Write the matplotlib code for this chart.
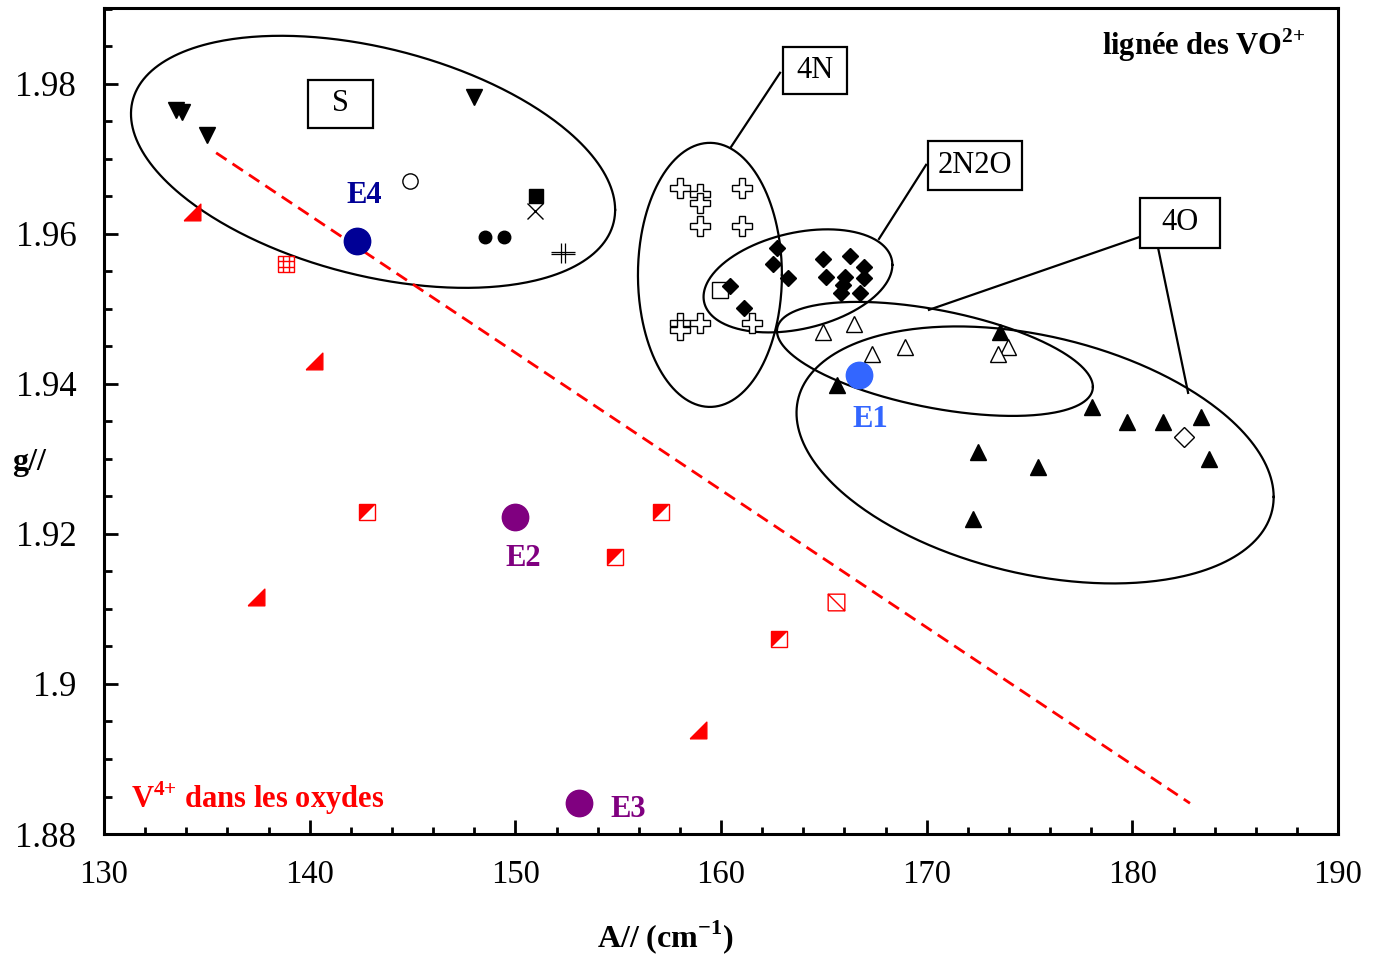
import numpy as np
import matplotlib
matplotlib.use('Agg')
import matplotlib.pyplot as plt
from matplotlib.path import Path
from matplotlib.patches import Rectangle
from matplotlib.ticker import MultipleLocator, FuncFormatter

plt.rcParams['font.family'] = 'Liberation Serif'
plt.rcParams['mathtext.fontset'] = 'custom'
plt.rcParams['mathtext.rm'] = 'Liberation Serif'
plt.rcParams['mathtext.bf'] = 'Liberation Serif:bold'

# ---- data (A// in cm-1, g//) ----
# S group
s_tri_x = [133.5, 133.8, 135.0, 148.0]
s_tri_y = [1.9765, 1.9763, 1.9732, 1.9783]
s_ocirc_x, s_ocirc_y = [144.9], [1.9671]
s_fsq_x, s_fsq_y = [151.0], [1.9651]
s_cross_x, s_cross_y = [150.95], [1.9631]
s_fcirc_x = [148.5, 149.45]
s_fcirc_y = [1.9596, 1.9596]
s_dbl_x, s_dbl_y = [152.3], [1.9575]

# 4N group
n4_x = [158.0, 159.0, 159.0, 161.0, 159.0, 161.0, 158.0, 158.0, 159.0, 161.5]
n4_y = [1.9661, 1.9653, 1.9641, 1.9661, 1.9611, 1.9611, 1.9481, 1.9472, 1.9481, 1.9481]
n4_sq_x, n4_sq_y = [159.95], [1.9525]

# 2N2O group
n2o2_x = [162.72, 162.53, 163.26, 160.44, 161.12, 164.96, 166.27, 166.95,
          165.11, 166.03, 166.95, 165.93, 165.83, 166.76]
n2o2_y = [1.9581, 1.9560, 1.9541, 1.9531, 1.9501, 1.9567, 1.9571, 1.9556,
          1.9543, 1.9543, 1.9541, 1.9532, 1.9521, 1.9521]

# 4O group
o4_open_x = [164.96, 166.47, 167.34, 168.95, 173.95, 173.47]
o4_open_y = [1.9469, 1.9480, 1.9440, 1.9449, 1.9449, 1.9440]
o4_fill_x = [173.57, 165.64, 178.04, 179.74, 181.49, 183.34, 172.5, 175.41, 183.73, 172.25]
o4_fill_y = [1.9469, 1.9399, 1.9369, 1.9349, 1.9349, 1.9356, 1.9309, 1.9289, 1.9300, 1.9220]
o4_diam_x, o4_diam_y = [182.51], [1.9329]

# V4+ in oxides (red)
ox_tri_x = [134.28, 140.2, 137.39, 158.88]
ox_tri_y = [1.9629, 1.9431, 1.9116, 1.8939]
ox_grid_x, ox_grid_y = [138.85], [1.9560]
ox_half_x = [142.79, 154.85, 157.08, 162.82]
ox_half_y = [1.9229, 1.9169, 1.9229, 1.9060]
ox_diag_x, ox_diag_y = [165.59], [1.9109]
ox_fit_x = [135.45, 182.8]
ox_fit_y = [1.9708, 1.8841]

# samples
samples = ['E1', 'E2', 'E3', 'E4']
samp_x = [166.71, 149.98, 153.1, 142.3]
samp_y = [1.9412, 1.9223, 1.8841, 1.9591]
samp_col = ['#3366ff', '#800080', '#800080', '#000096']
samp_lab_x = [167.24, 150.37, 155.48, 142.64]
samp_lab_y = [1.9352, 1.9167, 1.8833, 1.9651]

# group labels: text, box x0, x1, y0, y1
groups = ['S', '4N', '2N2O', '4O']
grp_x0 = [139.92, 163.01, 170.06, 180.37]
grp_x1 = [143.08, 166.13, 174.63, 184.26]
grp_y0 = [1.97413, 1.97867, 1.96587, 1.95813]
grp_y1 = [1.98053, 1.98493, 1.97240, 1.96480]

# custom markers
tri_r = Path([(-1, -1), (1, -1), (1, 1), (-1, -1)])
tri_ul = Path([(-1, 1), (1, 1), (-1, -1), (-1, 1)])
t = 1 / 3.
grid_sq = Path([(-1, -1), (1, -1), (1, 1), (-1, 1), (-1, -1),
                (-t, -1), (-t, 1), (t, -1), (t, 1), (-1, -t), (1, -t), (-1, t), (1, t)],
               [Path.MOVETO, Path.LINETO, Path.LINETO, Path.LINETO, Path.LINETO,
                Path.MOVETO, Path.LINETO, Path.MOVETO, Path.LINETO,
                Path.MOVETO, Path.LINETO, Path.MOVETO, Path.LINETO])
diag_sq = Path([(-1, -1), (1, -1), (1, 1), (-1, 1), (-1, -1), (-1, 1), (1, -1)],
               [Path.MOVETO, Path.LINETO, Path.LINETO, Path.LINETO, Path.LINETO,
                Path.MOVETO, Path.LINETO])
dbl_cross = Path([(-0.2, -0.85), (-0.2, 0.85), (0.2, -0.85), (0.2, 0.85),
                  (-1, 0.05), (1, 0.05), (-1, -0.1), (1, -0.1)],
                 [Path.MOVETO, Path.LINETO] * 4)


def ellipse(cx, cy, hx, hy, k):
    # hx, hy: half extents; k: y offset of the rightmost point
    tt = np.linspace(0, 2 * np.pi, 400)
    return cx + hx * np.cos(tt), cy + k * np.cos(tt) + np.sqrt(hy ** 2 - k ** 2) * np.sin(tt)


fig = plt.figure(figsize=(13.78, 9.56), dpi=100)
ax = fig.add_axes([0.0755, 0.1276, 0.8955, 0.864])

# ellipses
for cx, cy, hx, hy, k in [(143.08, 1.9696, 11.77, 0.0168, -0.0064),
                          (159.46, 1.95453, 3.50, 0.0176, 0.0),
                          (163.74, 1.95373, 4.59, 0.00687, 0.00213),
                          (170.40, 1.94333, 7.68, 0.0076, -0.00373),
                          (175.27, 1.93053, 11.6, 0.01713, -0.0056)]:
    ex, ey = ellipse(cx, cy, hx, hy, k)
    ax.plot(ex, ey, color='black', lw=1.6, zorder=1)

# leader lines to boxes
for (x0, y0), (x1, y1) in [((162.87, 1.98147), (160.49, 1.9716)),
                           ((169.97, 1.9692), (167.68, 1.95933)),
                           ((180.37, 1.9596), (170.11, 1.94987)),
                           ((181.25, 1.95813), (182.71, 1.9388))]:
    ax.plot([x0, x1], [y0, y1], color='black', lw=1.6, zorder=1)

# red fit line
ax.plot(ox_fit_x, ox_fit_y, color='red', lw=2, ls=(0, (4.5, 2.6)), zorder=2)

# S
ax.plot(s_tri_x, s_tri_y, 'v', color='black', ms=11.5, ls='none', zorder=3)
ax.plot(s_ocirc_x, s_ocirc_y, 'o', mfc='white', mec='black', mew=1, ms=11, ls='none', zorder=3)
ax.plot(s_fsq_x, s_fsq_y, 's', color='black', ms=9.5, ls='none', zorder=3)
ax.plot(s_cross_x, s_cross_y, 'x', color='black', ms=11, mew=1, ls='none', zorder=3)
ax.plot(s_fcirc_x, s_fcirc_y, 'o', color='black', ms=9, ls='none', zorder=3)
ax.plot(s_dbl_x, s_dbl_y, marker=dbl_cross, color='black', mfc='none', ms=17, mew=0.9, ls='none', zorder=3)

# 4N
ax.plot(n4_x, n4_y, 'P', mfc='white', mec='black', mew=1, ms=14, ls='none', zorder=3)
ax.plot(n4_sq_x, n4_sq_y, 's', mfc='white', mec='black', mew=1, ms=12, ls='none', zorder=3)

# 2N2O
ax.plot(n2o2_x, n2o2_y, 'D', color='black', ms=8.5, ls='none', zorder=3)

# 4O
ax.plot(o4_open_x, o4_open_y, '^', mfc='white', mec='black', mew=1, ms=11, ls='none', zorder=3)
ax.plot(o4_fill_x, o4_fill_y, '^', color='black', ms=11.5, ls='none', zorder=3)
ax.plot(o4_diam_x, o4_diam_y, 'D', mfc='white', mec='black', mew=1, ms=10, ls='none', zorder=3)

# oxides
ax.plot(ox_tri_x, ox_tri_y, marker=tri_r, color='red', ms=12, ls='none', zorder=3)
ax.plot(ox_grid_x, ox_grid_y, marker=grid_sq, mfc='none', mec='red', mew=1, ms=12, ls='none', zorder=3)
ax.plot(ox_half_x, ox_half_y, 's', mfc='white', mec='red', mew=1, ms=12, ls='none', zorder=3)
ax.plot(ox_half_x, ox_half_y, marker=tri_ul, color='red', mew=0, ms=12, ls='none', zorder=4)
ax.plot(ox_diag_x, ox_diag_y, marker=diag_sq, mfc='none', mec='red', mew=1, ms=12, ls='none', zorder=3)

# samples
for name, x, y, c, lx, ly in zip(samples, samp_x, samp_y, samp_col, samp_lab_x, samp_lab_y):
    ax.plot(x, y, 'o', color=c, ms=19, zorder=5)
    ax.text(lx, ly, name, color=c, fontsize=22, fontweight='bold', ha='center', va='center', zorder=6)

# boxed group labels
for txt, x0, x1, y0, y1 in zip(groups, grp_x0, grp_x1, grp_y0, grp_y1):
    ax.add_patch(Rectangle((x0, y0), x1 - x0, y1 - y0, fc='white', ec='black', lw=1.6, zorder=6))
    ax.text((x0 + x1) / 2, (y0 + y1) / 2, txt, fontsize=22, ha='center', va='center', zorder=7)

ax.text(188.4, 1.9852, r'lignée des VO$^{\mathbf{2{+}}}$', fontsize=22, fontweight='bold',
        ha='right', va='center')
ax.text(131.3, 1.8848, r'V$^{\mathbf{4{+}}}$ dans les oxydes', fontsize=22, fontweight='bold',
        color='red', ha='left', va='center')

ax.set_xlim(130, 190)
ax.set_ylim(1.88, 1.9901)
ax.xaxis.set_major_locator(MultipleLocator(10))
ax.xaxis.set_minor_locator(MultipleLocator(2))
ax.yaxis.set_major_locator(MultipleLocator(0.02))
ax.yaxis.set_minor_locator(MultipleLocator(0.005))
ax.yaxis.set_major_formatter(FuncFormatter(lambda v, p: '%g' % round(v, 3)))
ax.tick_params(which='both', direction='in', width=2, top=False, right=False)
ax.tick_params(axis='y', which='major', length=10, pad=20, labelsize=25)
ax.tick_params(axis='y', which='minor', length=6)
ax.tick_params(axis='x', which='major', length=10, pad=18, labelsize=23.5)
ax.tick_params(axis='x', which='minor', length=5)
for sp in ax.spines.values():
    sp.set_linewidth(2.2)

ax.set_xlabel(r'A// (cm$^{\mathbf{-1}}$)', fontsize=23, fontweight='bold', va='center')
ax.xaxis.set_label_coords(0.4546, -0.125)
ax.set_ylabel('g//', fontsize=23, fontweight='bold', rotation=0, va='center', ha='center')
ax.yaxis.set_label_coords(-0.061, 0.45)

fig.savefig('out.png', dpi=100)
